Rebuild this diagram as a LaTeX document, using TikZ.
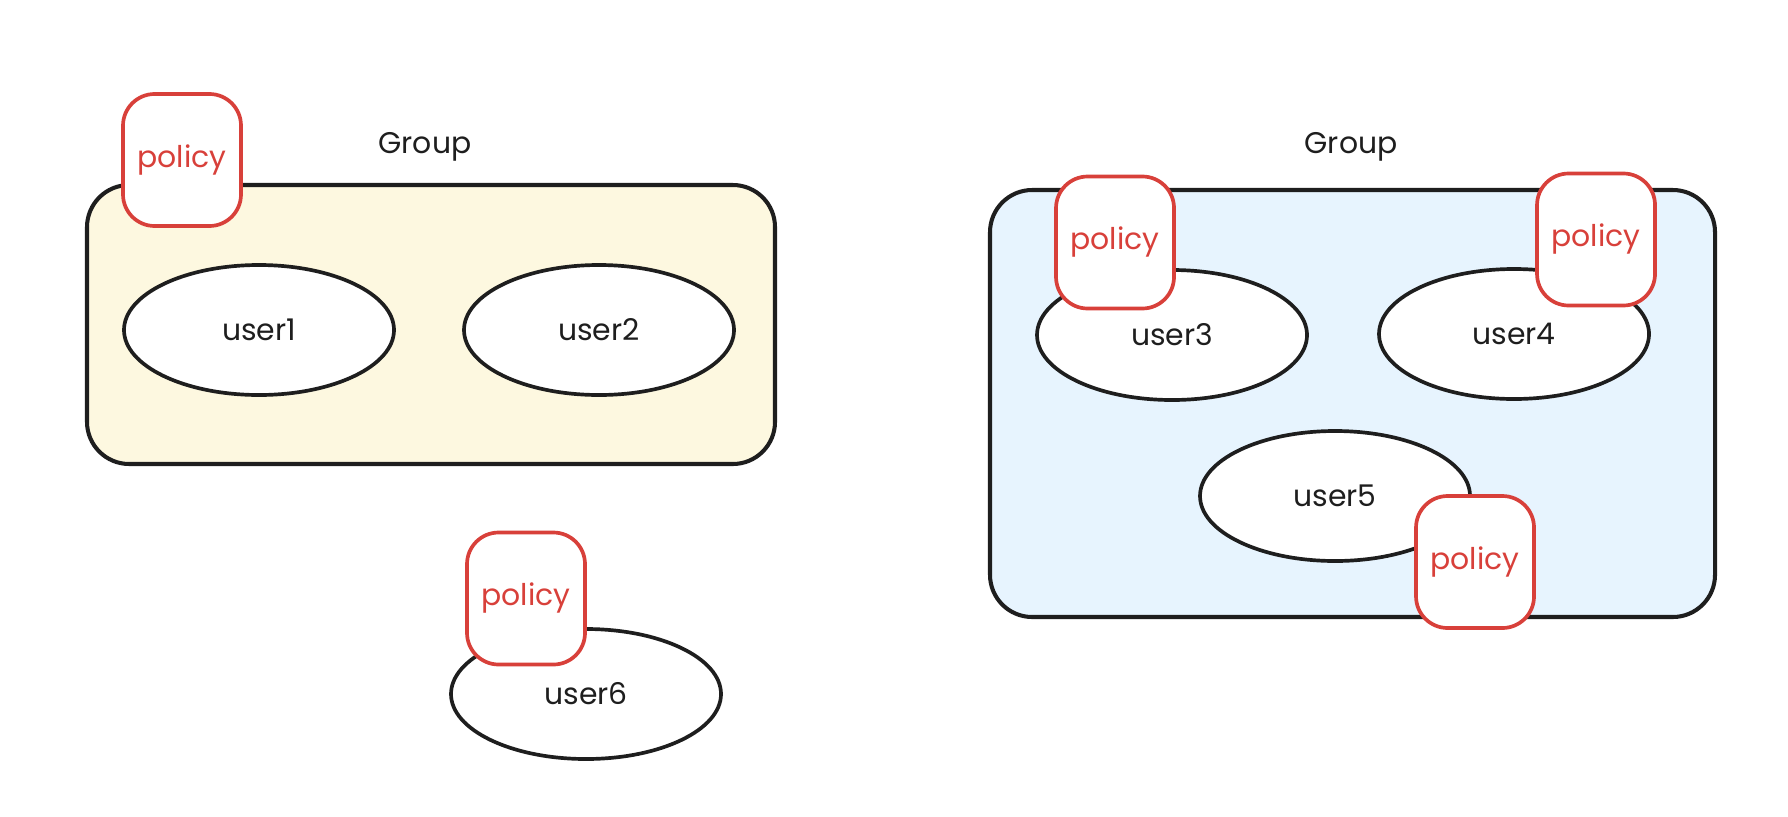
\documentclass[tikz,border=0pt]{standalone}
\usepackage{fontspec}
\setmainfont{Poppins}
\usepackage{tikz}
\usetikzlibrary{shapes.geometric, positioning}
\definecolor{inkblack}{HTML}{1E1E1E}
\definecolor{inkred}{HTML}{D8403A}
\definecolor{groupyellow}{HTML}{FDF8E0}
\definecolor{groupblue}{HTML}{E7F4FE}
\tikzset{
    group_box_yellow/.style={
        rectangle, rounded corners=12pt, draw=inkblack, line width=1.15pt,
        fill=groupyellow, minimum width=6.88cm, minimum height=2.79cm
    },
    group_box_blue/.style={
        rectangle, rounded corners=12pt, draw=inkblack, line width=1.15pt,
        fill=groupblue, minimum width=7.25cm, minimum height=4.27cm
    },
    user_oval/.style={
        ellipse, draw=inkblack, line width=1.05pt, fill=white,
        minimum width=2.7cm, minimum height=1.3cm, inner sep=0pt,
        font=\fontsize{8.5}{10}\selectfont, text=inkblack
    },
    policy_box/.style={
        rectangle, rounded corners=9pt, draw=inkred, line width=1.05pt, fill=white,
        minimum width=1.18cm, minimum height=1.32cm, inner sep=0pt,
        font=\fontsize{8.5}{10}\selectfont, text=inkred
    },
    group_lbl/.style={
        font=\fontsize{8.5}{10}\selectfont, text=inkblack
    }
}
\begin{document}
\begin{tikzpicture}
    \useasboundingbox (0,0) rectangle (17.88,8.16);

    % Groups
    \node[group_box_yellow] (grp_left) at (4.31, 4.915) {};
    \node[group_box_blue] (grp_right) at (13.525, 4.125) {};
    \node[group_lbl] (grp_left_lbl) at (4.25, 6.69) {Group};
    \node[group_lbl] (grp_right_lbl) at (13.51, 6.69) {Group};

    % Users
    \node[user_oval] (user1) at (2.59, 4.86) {user1};
    \node[user_oval] (user2) at (5.99, 4.86) {user2};
    \node[user_oval] (user3) at (11.72, 4.81) {user3};
    \node[user_oval] (user4) at (15.14, 4.82) {user4};
    \node[user_oval] (user5) at (13.35, 3.20) {user5};
    \node[user_oval] (user6) at (5.86, 1.22) {user6};

    % Policies
    \node[policy_box] (pol_grp_left) at (1.82, 6.56) {policy};
    \node[policy_box] (pol_user3) at (11.15, 5.735) {policy};
    \node[policy_box] (pol_user4) at (15.96, 5.765) {policy};
    \node[policy_box] (pol_user5) at (14.75, 2.54) {policy};
    \node[policy_box] (pol_user6) at (5.26, 2.175) {policy};
\end{tikzpicture}
\end{document}
